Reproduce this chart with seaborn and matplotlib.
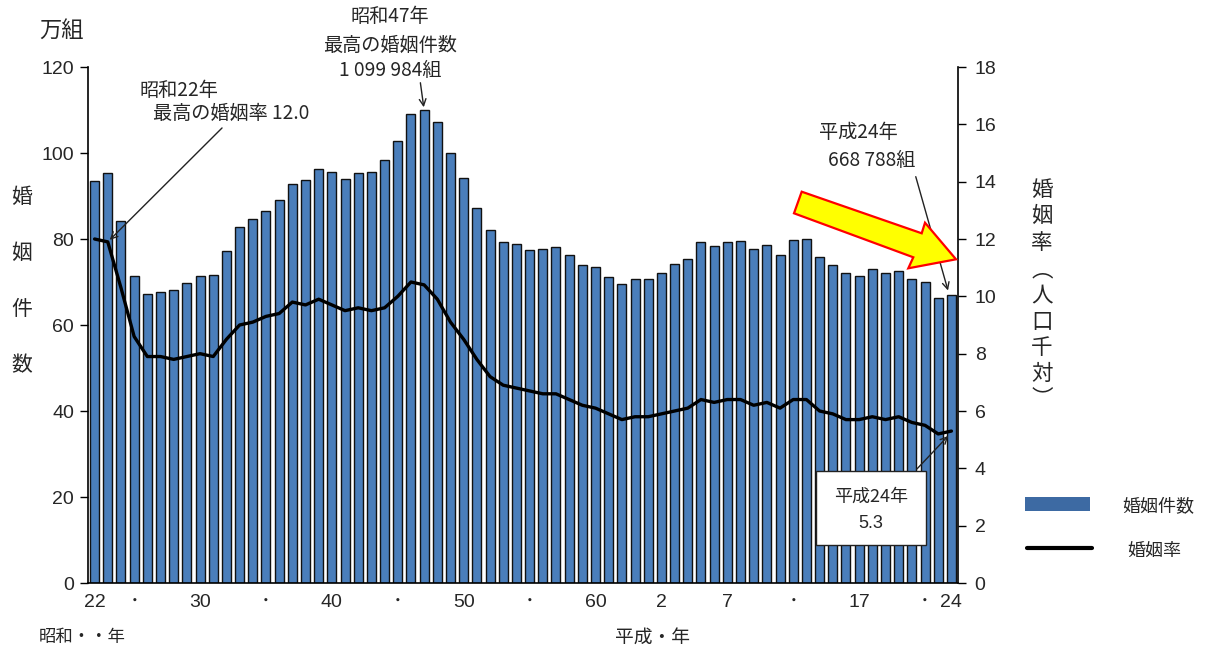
import numpy as np
import pandas as pd
import matplotlib
matplotlib.use("Agg")
import matplotlib.pyplot as plt
from matplotlib.patches import Polygon, Rectangle
from matplotlib.lines import Line2D
import seaborn as sns

# 婚姻件数（万組）と婚姻率（人口千対）、昭和22年〜平成24年
years = list(range(1947, 2013))
marriages = [93.4, 95.4, 84.2, 71.5, 67.2, 67.7, 68.2, 69.8, 71.5, 71.6,
             77.3, 82.7, 84.7, 86.6, 89.0, 92.8, 93.8, 96.3, 95.5, 94.0,
             95.3, 95.6, 98.4, 102.9, 109.1, 110.0, 107.2, 100.0, 94.2, 87.2,
             82.1, 79.3, 78.9, 77.5, 77.7, 78.1, 76.3, 74.0, 73.6, 71.1,
             69.6, 70.8, 70.8, 72.2, 74.2, 75.4, 79.3, 78.3, 79.2, 79.5,
             77.6, 78.5, 76.2, 79.8, 80.0, 75.7, 74.0, 72.0, 71.4, 73.1,
             72.0, 72.6, 70.8, 70.0, 66.2, 66.9]
rates = [12.0, 11.9, 10.3, 8.6, 7.9, 7.9, 7.8, 7.9, 8.0, 7.9,
         8.5, 9.0, 9.1, 9.3, 9.4, 9.8, 9.7, 9.9, 9.7, 9.5,
         9.6, 9.5, 9.6, 10.0, 10.5, 10.4, 9.9, 9.1, 8.5, 7.8,
         7.2, 6.9, 6.8, 6.7, 6.6, 6.6, 6.4, 6.2, 6.1, 5.9,
         5.7, 5.8, 5.8, 5.9, 6.0, 6.1, 6.4, 6.3, 6.4, 6.4,
         6.2, 6.3, 6.1, 6.4, 6.4, 6.0, 5.9, 5.7, 5.7, 5.8,
         5.7, 5.8, 5.6, 5.5, 5.2, 5.3]
tick_years = [1947, 1950, 1955, 1960, 1965, 1970, 1975, 1980, 1985,
              1990, 1995, 2000, 2005, 2010, 2012]
tick_labels = ["22", "･", "30", "･", "40", "･", "50", "･", "60",
               "2", "7", "･", "17", "･", "24"]

df = pd.DataFrame({"year": years, "marriages": marriages, "rate": rates})
df["pos"] = np.arange(len(df))

sns.set_theme(style="white")
JP = ["Noto Sans CJK JP", "DejaVu Sans"]
NUM = ["Liberation Sans", "DejaVu Sans"]
NARROW = ["Liberation Sans Narrow", "Liberation Sans", "Noto Sans CJK JP", "DejaVu Sans"]
plt.rcParams["font.family"] = JP

W, H = 1206, 657
fig = plt.figure(figsize=(W / 100, H / 100), dpi=100)
ax = fig.add_axes([88 / W, 1 - 583 / H, (958 - 88) / W, (583 - 67) / H])

BAR_FACE = "#4a7ebb"
sns.barplot(data=df, x="pos", y="marriages", ax=ax, color=BAR_FACE,
            width=0.68, edgecolor="#111111", linewidth=1.0, saturation=1)
ax.set_xlim(-0.5, len(df) - 0.5)
ax.set_ylim(0, 120)
ax.set_yticks(range(0, 121, 20))
ax.set_yticklabels([str(v) for v in range(0, 121, 20)], family=NUM, fontsize=14)

pos_of = {y: i for i, y in enumerate(years)}
ax.set_xticks([pos_of[y] for y in tick_years])
ax.set_xticklabels(tick_labels, family=NARROW, fontsize=14)
ax.tick_params(axis="x", length=0, pad=8)
ax.tick_params(axis="y", direction="out", length=6, width=1, color="black",
               left=True, pad=4)
ax.set_xlabel("")
ax.set_ylabel("")
for side in ["top", "right"]:
    ax.spines[side].set_visible(False)
for side in ["left", "bottom"]:
    ax.spines[side].set_color("black")
    ax.spines[side].set_linewidth(1.2)

ax2 = ax.twinx()
sns.lineplot(data=df, x="pos", y="rate", ax=ax2, color="black", linewidth=2.4)
ax2.set_ylim(0, 18)
ax2.set_xlim(-0.5, len(df) - 0.5)
ax2.set_yticks(range(0, 19, 2))
ax2.set_yticklabels([str(v) for v in range(0, 19, 2)], family=NUM, fontsize=14)
ax2.tick_params(axis="y", direction="out", length=6, width=1, color="black",
                right=True, pad=6)
ax2.set_ylabel("")
ax2.set_xlabel("")
for side in ["top", "left", "bottom"]:
    ax2.spines[side].set_visible(False)
ax2.spines["right"].set_color("black")
ax2.spines["right"].set_linewidth(1.2)

def fx(px):
    return px / W

def fy(py):
    return 1 - py / H

ANN = 13.8

# 軸の見出し（縦書き）
fig.text(fx(62), fy(30), "万組", fontsize=16, ha="center", va="center")
for k, ch in enumerate("婚姻件数"):
    fig.text(fx(22), fy(197 + k * 56), ch, fontsize=15, ha="center", va="center")
right_label = ["婚", "姻", "率", "︵", "人", "口", "千", "対", "︶"]
right_label_y = [190, 216, 243, 270, 295, 322, 348, 374, 398]
for ch, yy in zip(right_label, right_label_y):
    fig.text(fx(1042), fy(yy), ch, fontsize=15.5, ha="center", va="center")
fig.text(fx(82), fy(637), "昭和・・年", fontsize=12.5, ha="center", va="center")
fig.text(fx(652), fy(637), "平成・年", fontsize=13.5, ha="center", va="center")

# 注記
fig.text(fx(179), fy(90), "昭和22年", fontsize=ANN, ha="center", va="center")
fig.text(fx(231), fy(113), "最高の婚姻率 12.0", fontsize=ANN, ha="center", va="center")
ax2.annotate("", xy=(pos_of[1948], rates[1]), xycoords="data",
             xytext=(fx(224), fy(126)), textcoords="figure fraction",
             arrowprops=dict(arrowstyle="->", color="#222222", lw=1.0))

fig.text(fx(390), fy(17), "昭和47年", fontsize=ANN, ha="center", va="center")
fig.text(fx(390), fy(45), "最高の婚姻件数", fontsize=ANN, ha="center", va="center")
fig.text(fx(390), fy(70), "1 099 984組", fontsize=ANN, ha="center", va="center")
ax.annotate("", xy=(pos_of[1972], marriages[pos_of[1972]]), xycoords="data",
            xytext=(fx(420), fy(80)), textcoords="figure fraction",
            arrowprops=dict(arrowstyle="->", color="#222222", lw=1.0))

fig.text(fx(858), fy(133), "平成24年", fontsize=ANN, ha="center", va="center")
fig.text(fx(872), fy(160), "668 788組", fontsize=ANN, ha="center", va="center")
ax.annotate("", xy=(pos_of[2012] - 0.2, marriages[-1] + 0.5), xycoords="data",
            xytext=(fx(915), fy(174)), textcoords="figure fraction",
            arrowprops=dict(arrowstyle="->", color="#222222", lw=1.0))

box = Rectangle((fx(816), fy(545)), fx(926) - fx(816), fy(471) - fy(545),
                transform=fig.transFigure, facecolor="white", edgecolor="#222222",
                linewidth=1.0, zorder=5)
fig.add_artist(box)
fig.text(fx(871), fy(497), "平成24年", fontsize=13, ha="center", va="center", zorder=6)
fig.text(fx(871), fy(523), "5.3", fontsize=13, ha="center", va="center",
         family=NUM, zorder=6)
ax2.annotate("", xy=(pos_of[2012] - 0.1, rates[-1] - 0.1), xycoords="data",
             xytext=(fx(915), fy(471)), textcoords="figure fraction",
             arrowprops=dict(arrowstyle="->", color="#222222", lw=1.0))

# 強調の矢印
arrow_px = [(801.7, 191.7), (921.7, 233.3), (925, 222.7), (956, 259.3),
            (908.3, 268.3), (913.3, 257.3), (794, 213.3)]
fig.add_artist(Polygon([(fx(x), fy(y)) for x, y in arrow_px], closed=True,
                       transform=fig.transFigure, facecolor="#ffff00",
                       edgecolor="#ff0000", linewidth=1.6, zorder=7))

# 凡例
fig.add_artist(Rectangle((fx(1025), fy(511)), fx(1090) - fx(1025), fy(497) - fy(511),
                         transform=fig.transFigure, facecolor="#3d6aa3",
                         edgecolor="none"))
fig.text(fx(1158), fy(507), "婚姻件数", fontsize=13, ha="center", va="center")
fig.add_artist(Line2D([fx(1027), fx(1092)], [fy(548), fy(548)],
                      transform=fig.transFigure, color="black", linewidth=3))
fig.text(fx(1154), fy(551), "婚姻率", fontsize=13, ha="center", va="center")

fig.savefig("out.png", dpi=100)
